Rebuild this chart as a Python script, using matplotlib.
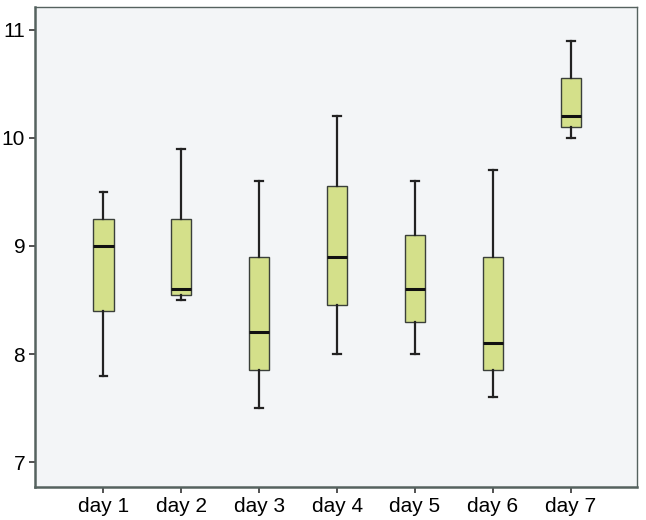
import matplotlib
matplotlib.use("Agg")
import matplotlib.pyplot as plt

labels = ["day 1", "day 2", "day 3", "day 4", "day 5", "day 6", "day 7"]
whislo = [7.8, 8.5, 7.5, 8.0, 8.0, 7.6, 10.0]
q1 = [8.4, 8.55, 7.85, 8.45, 8.3, 7.85, 10.1]
med = [9.0, 8.6, 8.2, 8.9, 8.6, 8.1, 10.2]
q3 = [9.25, 9.25, 8.9, 9.55, 9.1, 8.9, 10.55]
whishi = [9.5, 9.9, 9.6, 10.2, 9.6, 9.7, 10.9]

stats = []
for i in range(len(labels)):
    stats.append({"label": labels[i], "whislo": whislo[i], "q1": q1[i],
                  "med": med[i], "q3": q3[i], "whishi": whishi[i], "fliers": []})

plt.rcParams['font.family'] = ['Liberation Sans', 'DejaVu Sans']

fig = plt.figure(figsize=(6.46, 5.2), dpi=100)
ax = fig.add_axes([0.054, 0.0635, 0.932, 0.923])
ax.set_facecolor("#f3f5f7")

ax.bxp(stats, widths=0.26, patch_artist=True, showfliers=False,
       boxprops=dict(facecolor="#d4e08a", edgecolor="#3a3f3a", linewidth=1.0),
       medianprops=dict(color="#111111", linewidth=2.2),
       whiskerprops=dict(color="#222222", linewidth=1.6),
       capprops=dict(color="#222222", linewidth=1.6),
       capwidths=0.1)

ax.set_xlim(0.12, 7.85)
ax.set_ylim(6.77, 11.21)
ax.set_yticks([7, 8, 9, 10, 11])

for s in ax.spines.values():
    s.set_color("#55625f")
    s.set_linewidth(1.0)
ax.spines["left"].set_linewidth(1.8)
ax.spines["bottom"].set_linewidth(1.8)

ax.tick_params(axis="both", labelsize=15, color="#333333", width=1.2, length=4, pad=3)
plt.savefig("out.png", dpi=100)
